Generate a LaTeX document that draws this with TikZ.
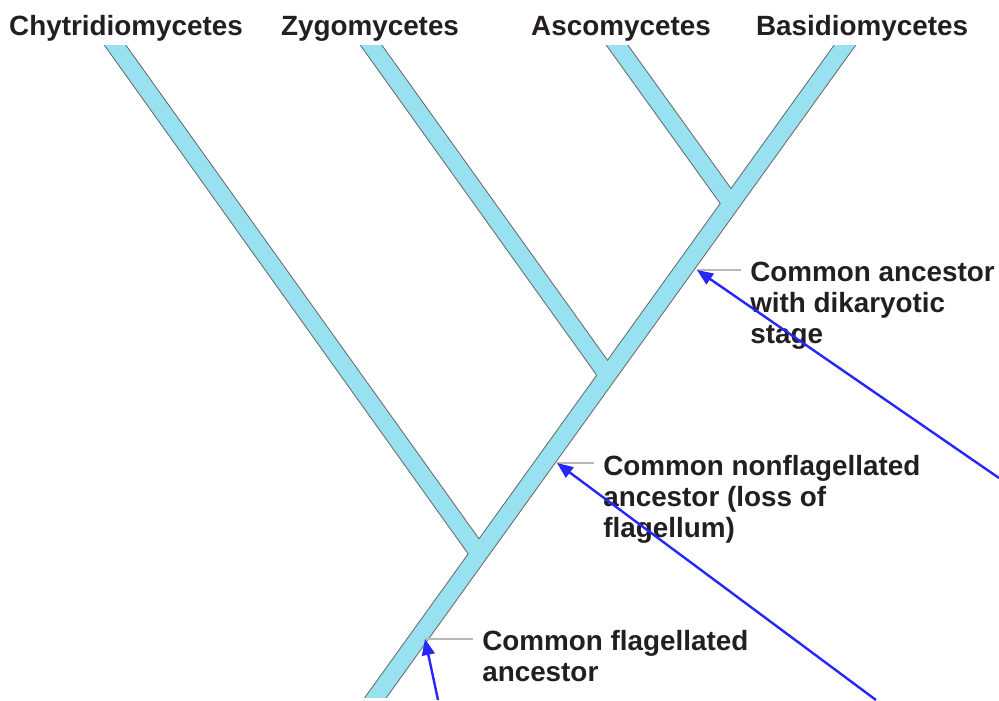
\documentclass[tikz,border=0pt]{standalone}
\usepackage{fontspec}
\setmainfont{Liberation Sans}
\usetikzlibrary{arrows.meta,positioning}

\definecolor{branchfill}{RGB}{152,225,241}
\definecolor{branchline}{RGB}{105,105,105}
\definecolor{leadergray}{RGB}{185,185,185}
\definecolor{arrowblue}{RGB}{38,38,255}
\definecolor{labeltext}{RGB}{35,31,32}

\begin{document}
\begin{tikzpicture}[x=0.025cm, y=-0.025cm,
					every node/.style={font=\fontsize{19.8}{21.7}\selectfont\bfseries, text=labeltext, inner sep=0pt},
					taxon/.style={anchor=base},
					note/.style={anchor=base west, align=left},
					branchout/.style={draw=branchline, line width=0.46cm, shorten <=-0.6cm},
					branchin/.style={draw=branchfill, line width=0.41cm, shorten <=-0.6cm},
					trunkout/.style={branchout, shorten >=-0.6cm},
					trunkin/.style={branchin, shorten >=-0.6cm},
					leader/.style={draw=leadergray, line width=0.05cm},
					pointer/.style={draw=arrowblue, line width=0.06cm, -{Triangle[length=0.4cm,width=0.32cm]}}]
					\useasboundingbox (0,0) rectangle (999,700);
					% tips, junctions and root of the tree
					\coordinate (chytip) at (115,45);
					\coordinate (zygtip) at (371,45);
					\coordinate (asctip) at (617,45);
					\coordinate (bastip) at (845,45);
					\coordinate (root) at (376,697);
					\coordinate (jchy) at (478,552.5);
					\coordinate (jzyg) at (607,374.5);
					\coordinate (jasc) at (731,203.5);
					\begin{scope}
						\clip (0,45) rectangle (999,697);
						\draw[trunkout] (root) -- (bastip);
						\draw[branchout] (chytip) -- (jchy);
						\draw[branchout] (zygtip) -- (jzyg);
						\draw[branchout] (asctip) -- (jasc);
						\draw[trunkin] (root) -- (bastip);
						\draw[branchin] (chytip) -- (jchy);
						\draw[branchin] (zygtip) -- (jzyg);
						\draw[branchin] (asctip) -- (jasc);
					\end{scope}
					% group names
					\node[taxon] (chy) at (126,35) {Chytridiomycetes};
					\node[taxon] (zyg) at (370,35) {Zygomycetes};
					\node[taxon] (asc) at (621,35) {Ascomycetes};
					\node[taxon] (bas) at (862,35) {Basidiomycetes};
					% ancestors on the trunk (base = last line)
					\coordinate (dikpt) at (697,270);
					\coordinate (nonflpt) at (557,463);
					\coordinate (flagpt) at (425,639);
					\node[note] (dik) at (750,343) {Common ancestor\\with dikaryotic\\stage};
					\node[note] (nonfl) at (603,537) {Common nonflagellated\\ancestor (loss of\\flagellum)};
					\node[note] (flag) at (482,681) {Common flagellated\\ancestor};
					\draw[leader] (dikpt) -- ([xshift=-0.22cm]dik.west |- dikpt);
					\draw[leader] (nonflpt) -- ([xshift=-0.22cm]nonfl.west |- nonflpt);
					\draw[leader] (flagpt) -- ([xshift=-0.22cm]flag.west |- flagpt);
					% blue pointers coming in from the edge
					\coordinate (dikfrom) at (999,478);
					\coordinate (nonflfrom) at (876,700);
					\coordinate (flagfrom) at (438,700);
					\draw[pointer] (dikfrom) -- (dikpt);
					\draw[pointer] (nonflfrom) -- (nonflpt);
					\draw[pointer] (flagfrom) -- (flagpt);
				\end{tikzpicture}
\end{document}
